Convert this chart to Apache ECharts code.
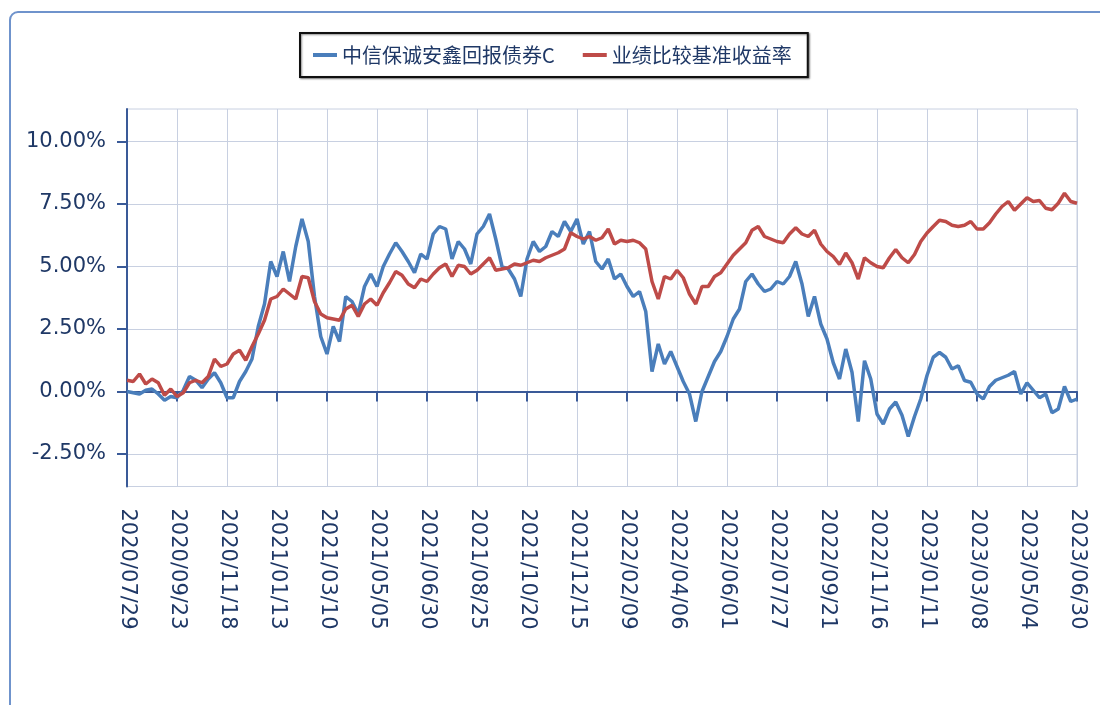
<!DOCTYPE html>
<html>
<head>
<meta charset="utf-8">
<script src="https://cdn.jsdelivr.net/npm/echarts@6/dist/echarts.min.js"></script>
<style>
html,body{margin:0;padding:0;background:#fff;}
#chart{width:1100px;height:705px;}
</style>
</head>
<body>
<div id="chart"></div>
<script>
// Tick labels on the x axis (every 8th category)
const tickDates = ['2020/07/29','2020/09/23','2020/11/18','2021/01/13','2021/03/10','2021/05/05','2021/06/30','2021/08/25','2021/10/20','2021/12/15','2022/02/09','2022/04/06','2022/06/01','2022/07/27','2022/09/21','2022/11/16','2023/01/11','2023/03/08','2023/05/04','2023/06/30'];
const yTickValues = [-2.5, 0, 2.5, 5, 7.5, 10];
const seriesNames = ['中信保诚安鑫回报债券C', '业绩比较基准收益率'];

// Fund cumulative return (%), weekly samples
const fundReturn = [
  0.0, -0.05, -0.1, 0.05, 0.1, -0.1, -0.35, -0.2,
  -0.25, 0.05, 0.6, 0.45, 0.15, 0.5, 0.75, 0.35,
  -0.25, -0.25, 0.4, 0.8, 1.3, 2.6, 3.5, 5.2,
  4.6, 5.6, 4.4, 5.8, 6.9, 6.0, 3.8, 2.2,
  1.5, 2.6, 2.0, 3.8, 3.6, 3.1, 4.2, 4.7,
  4.2, 5.0, 5.5, 5.95, 5.6, 5.2, 4.75, 5.5,
  5.3, 6.3, 6.6, 6.5, 5.3, 6.0, 5.7, 5.1,
  6.3, 6.6, 7.1, 6.1, 5.0, 4.9, 4.5, 3.8,
  5.3, 6.0, 5.6, 5.8, 6.4, 6.2, 6.8, 6.4,
  6.9, 5.9, 6.4, 5.2, 4.9, 5.3, 4.5, 4.7,
  4.2, 3.8, 4.0, 3.2, 0.8, 1.9, 1.1, 1.6,
  1.0, 0.4, -0.1, -1.2, 0.0, 0.6, 1.2, 1.6,
  2.2, 2.9, 3.3, 4.4, 4.7, 4.3, 4.0, 4.1,
  4.4, 4.3, 4.6, 5.2, 4.3, 3.0, 3.8, 2.7,
  2.1, 1.15, 0.5, 1.7, 0.77, -1.2, 1.23, 0.5,
  -0.9, -1.3, -0.7, -0.42, -0.95, -1.8, -1.0, -0.3,
  0.64, 1.37, 1.56, 1.37, 0.9, 1.03, 0.44, 0.37,
  -0.1, -0.3, 0.2, 0.45, 0.55, 0.65, 0.8, -0.1,
  0.35, 0.05, -0.25, -0.1, -0.85, -0.7, 0.2, -0.4,
  -0.3
];

// Benchmark cumulative return (%), weekly samples
const benchReturn = [
  0.45, 0.4, 0.7, 0.3, 0.5, 0.35, -0.15, 0.1,
  -0.2, -0.05, 0.35, 0.45, 0.35, 0.6, 1.3, 1.0,
  1.1, 1.5, 1.65, 1.25, 1.8, 2.3, 2.85, 3.7,
  3.8, 4.1, 3.9, 3.7, 4.6, 4.55, 3.6, 3.1,
  2.95, 2.9, 2.85, 3.3, 3.45, 3.0, 3.5, 3.7,
  3.45, 3.95, 4.35, 4.8, 4.65, 4.3, 4.15, 4.5,
  4.4, 4.7, 4.95, 5.1, 4.6, 5.05, 5.0, 4.7,
  4.85, 5.1, 5.35, 4.85, 4.9, 4.95, 5.1, 5.05,
  5.15, 5.25, 5.2, 5.35, 5.45, 5.55, 5.7, 6.35,
  6.2, 6.1, 6.2, 6.05, 6.15, 6.5, 5.9, 6.05,
  6.0, 6.05, 5.95, 5.7, 4.4, 3.7, 4.6, 4.5,
  4.85, 4.55, 3.9, 3.5, 4.2, 4.2, 4.6, 4.75,
  5.1, 5.45, 5.7, 5.95, 6.45, 6.6, 6.2, 6.1,
  6.0, 5.95, 6.3, 6.55, 6.3, 6.2, 6.45, 5.9,
  5.6, 5.4, 5.08, 5.54, 5.15, 4.5, 5.35, 5.15,
  5.0, 4.95, 5.35, 5.68, 5.35, 5.15, 5.48, 6.0,
  6.34, 6.6, 6.85, 6.8, 6.65, 6.6, 6.65, 6.8,
  6.5, 6.5, 6.75, 7.1, 7.4, 7.6, 7.25, 7.5,
  7.75, 7.6, 7.64, 7.33, 7.27, 7.53, 7.93, 7.6,
  7.53
];

// Build weekly category dates between tick labels
function pad(n){ return n < 10 ? '0' + n : '' + n; }
function fmtDate(d){ return d.getUTCFullYear() + '/' + pad(d.getUTCMonth() + 1) + '/' + pad(d.getUTCDate()); }
function parseDate(s){ const p = s.split('/'); return Date.UTC(+p[0], +p[1] - 1, +p[2]); }
const categories = [];
for (let j = 0; j < tickDates.length - 1; j++) {
  categories.push(tickDates[j]);
  const start = parseDate(tickDates[j]);
  for (let k = 1; k < 8; k++) {
    categories.push(fmtDate(new Date(start + k * 7 * 86400000)));
  }
}
categories.push(tickDates[tickDates.length - 1]);

const axisColor = '#3A5A98';
const gridColor = '#C8D0E1';
const labelColor = '#1F3866';

const chart = echarts.init(document.getElementById('chart'), null, { renderer: 'canvas' });
chart.setOption({
  animation: false,
  backgroundColor: '#ffffff',
  graphic: [{
    type: 'rect',
    z: -10,
    shape: { x: 10, y: 12, width: 1200, height: 800, r: 8 },
    style: { fill: 'none', stroke: '#6F93CC', lineWidth: 2 }
  }],
  legend: {
    data: seriesNames,
    left: 300,
    top: 33,
    padding: [12, 16, 12, 13],
    itemGap: 28,
    itemWidth: 24,
    itemHeight: 4,
    icon: 'rect',
    backgroundColor: '#ffffff',
    borderColor: '#111111',
    borderWidth: 2,
    shadowColor: 'rgba(0,0,0,0.45)',
    shadowBlur: 2,
    shadowOffsetX: 1,
    shadowOffsetY: 1,
    textStyle: { fontFamily: 'Noto Sans CJK SC', fontSize: 20, color: labelColor }
  },
  grid: {
    left: 127, right: 23, top: 109, bottom: 218.5,
    show: true, borderColor: gridColor, borderWidth: 1,
    outerBoundsMode: 'none'
  },
  xAxis: {
    type: 'category',
    data: categories,
    boundaryGap: false,
    axisLine: { show: true, lineStyle: { color: axisColor, width: 2 } },
    axisTick: { show: true, interval: 7, length: 10, lineStyle: { color: axisColor, width: 2 } },
    splitLine: { show: true, interval: 7, lineStyle: { color: gridColor, width: 1 } },
    axisLabel: {
      interval: 7, rotate: -90, margin: 22,
      fontFamily: 'DejaVu Sans', fontSize: 21, color: labelColor
    }
  },
  yAxis: {
    type: 'value',
    min: -3.8,
    max: 11.3,
    axisLine: { show: true, lineStyle: { color: axisColor, width: 2 } },
    axisTick: { show: true, length: 10, customValues: yTickValues, lineStyle: { color: axisColor, width: 2 } },
    splitLine: { show: true, lineStyle: { color: gridColor, width: 1 } },
    axisLabel: {
      customValues: yTickValues,
      margin: 21,
      fontFamily: 'DejaVu Sans', fontSize: 21, color: labelColor,
      formatter: function (v) { return v.toFixed(2) + '%'; }
    }
  },
  series: [
    {
      name: seriesNames[0], type: 'line', data: fundReturn,
      showSymbol: false, symbol: 'none',
      lineStyle: { color: '#4A7EBB', width: 3.5 },
      itemStyle: { color: '#4A7EBB' }
    },
    {
      name: seriesNames[1], type: 'line', data: benchReturn,
      showSymbol: false, symbol: 'none',
      lineStyle: { color: '#BE4B48', width: 3.5 },
      itemStyle: { color: '#BE4B48' }
    }
  ]
});
</script>
</body>
</html>
